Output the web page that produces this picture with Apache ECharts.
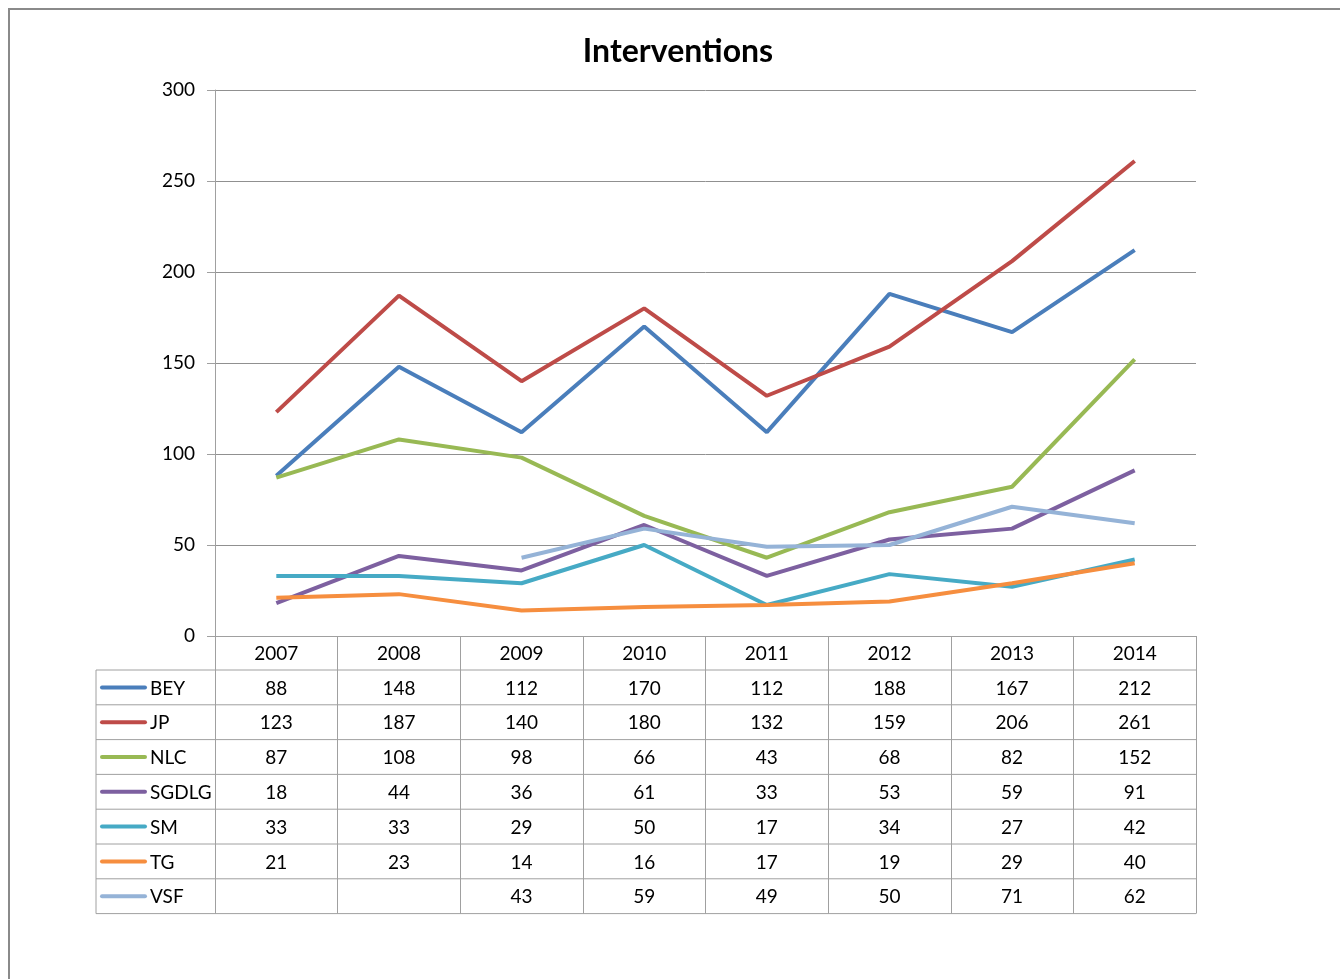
<!DOCTYPE html>
<html>
<head>
<meta charset="utf-8">
<script src="https://cdn.jsdelivr.net/npm/echarts@6/dist/echarts.min.js"></script>
<style>
  html, body { margin: 0; padding: 0; background: #fff; }
  #chart { width: 1340px; height: 979px; }
</style>
</head>
<body>
<div id="chart"></div>
<script>
const years = ['2007', '2008', '2009', '2010', '2011', '2012', '2013', '2014'];
const bey = [88, 148, 112, 170, 112, 188, 167, 212];
const jp = [123, 187, 140, 180, 132, 159, 206, 261];
const nlc = [87, 108, 98, 66, 43, 68, 82, 152];
const sgdlg = [18, 44, 36, 61, 33, 53, 59, 91];
const sm = [33, 33, 29, 50, 17, 34, 27, 42];
const tg = [21, 23, 14, 16, 17, 19, 29, 40];
const vsf = [null, null, 43, 59, 49, 50, 71, 62];

const seriesNames = ['BEY', 'JP', 'NLC', 'SGDLG', 'SM', 'TG', 'VSF'];
const seriesData = [bey, jp, nlc, sgdlg, sm, tg, vsf];
const colors = ['#4a7ebb', '#be4b48', '#98b954', '#7d60a0', '#46aac5', '#f68e3f', '#95b3d7'];

const font = 'Lato, "Open Sans", sans-serif';
const gridColor = '#909090';
const tableColor = '#a0a0a0';

// layout of the plot and the data table underneath it
const gridLeft = 215, gridRight = 144, gridTop = 90, gridBottom = 343;
const headerH = 34, rowH = 34.8, tableLeft = 96;

const chart = echarts.init(document.getElementById('chart'));

const option = {
  backgroundColor: '#fff',
  animation: false,
  title: {
    text: 'Interventions',
    left: 673,
    top: 31,
    textAlign: 'center',
    textStyle: { fontFamily: font, fontSize: 32, fontWeight: 'bold', color: '#000' }
  },
  grid: { left: gridLeft, right: gridRight, top: gridTop, bottom: gridBottom },
  xAxis: {
    type: 'category',
    data: years,
    boundaryGap: true,
    axisLine: { lineStyle: { color: tableColor, width: 1 } },
    axisTick: { show: true, length: headerH + rowH * seriesNames.length, lineStyle: { color: tableColor } },
    axisLabel: { fontFamily: font, fontSize: 19, color: '#000', margin: 8 }
  },
  yAxis: {
    type: 'value',
    min: 0,
    max: 300,
    interval: 50,
    axisLine: { show: true, lineStyle: { color: tableColor } },
    axisTick: { show: true, length: 8, lineStyle: { color: tableColor } },
    axisLabel: { fontFamily: font, fontSize: 19, color: '#000', margin: 20 },
    splitLine: { lineStyle: { color: gridColor, width: 1 } }
  },
  series: seriesNames.map((name, i) => ({
    name,
    type: 'line',
    data: seriesData[i],
    symbol: 'none',
    lineStyle: { color: colors[i], width: 4 },
    itemStyle: { color: colors[i] },
    connectNulls: false
  }))
};

chart.setOption(option);

// data table drawn under the category axis
const graphic = [];
graphic.push({
  type: 'rect',
  shape: { x: 9, y: 9, width: 1400, height: 1100 },
  style: { fill: 'none', stroke: '#8a8a8a', lineWidth: 2 },
  silent: true
});
const plotBottom = 979 - gridBottom;
const plotRight = 1340 - gridRight;
const firstRowTop = plotBottom + headerH;
for (let k = 0; k <= seriesNames.length; k++) {
  const y = firstRowTop + rowH * k;
  graphic.push({
    type: 'line',
    shape: { x1: tableLeft, y1: y, x2: plotRight, y2: y },
    style: { stroke: tableColor, lineWidth: 1 },
    silent: true
  });
}
graphic.push({
  type: 'line',
  shape: { x1: tableLeft, y1: firstRowTop, x2: tableLeft, y2: firstRowTop + rowH * seriesNames.length },
  style: { stroke: tableColor, lineWidth: 1 },
  silent: true
});
seriesNames.forEach((name, i) => {
  const cy = firstRowTop + rowH * i + rowH / 2;
  graphic.push({
    type: 'line',
    shape: { x1: tableLeft + 6, y1: cy, x2: tableLeft + 49, y2: cy },
    style: { stroke: colors[i], lineWidth: 4, lineCap: 'round' },
    silent: true
  });
  graphic.push({
    type: 'text',
    x: tableLeft + 54,
    y: cy + 1,
    style: { text: name, fontFamily: font, fontSize: 19, fill: '#000', verticalAlign: 'middle', align: 'left' },
    silent: true
  });
  seriesData[i].forEach((v, j) => {
    if (v == null) return;
    const cx = chart.convertToPixel({ xAxisIndex: 0 }, j);
    graphic.push({
      type: 'text',
      x: cx,
      y: cy + 1,
      style: { text: String(v), fontFamily: font, fontSize: 19, fill: '#000', verticalAlign: 'middle', align: 'center' },
      silent: true
    });
  });
});

chart.setOption({ graphic });
</script>
</body>
</html>
